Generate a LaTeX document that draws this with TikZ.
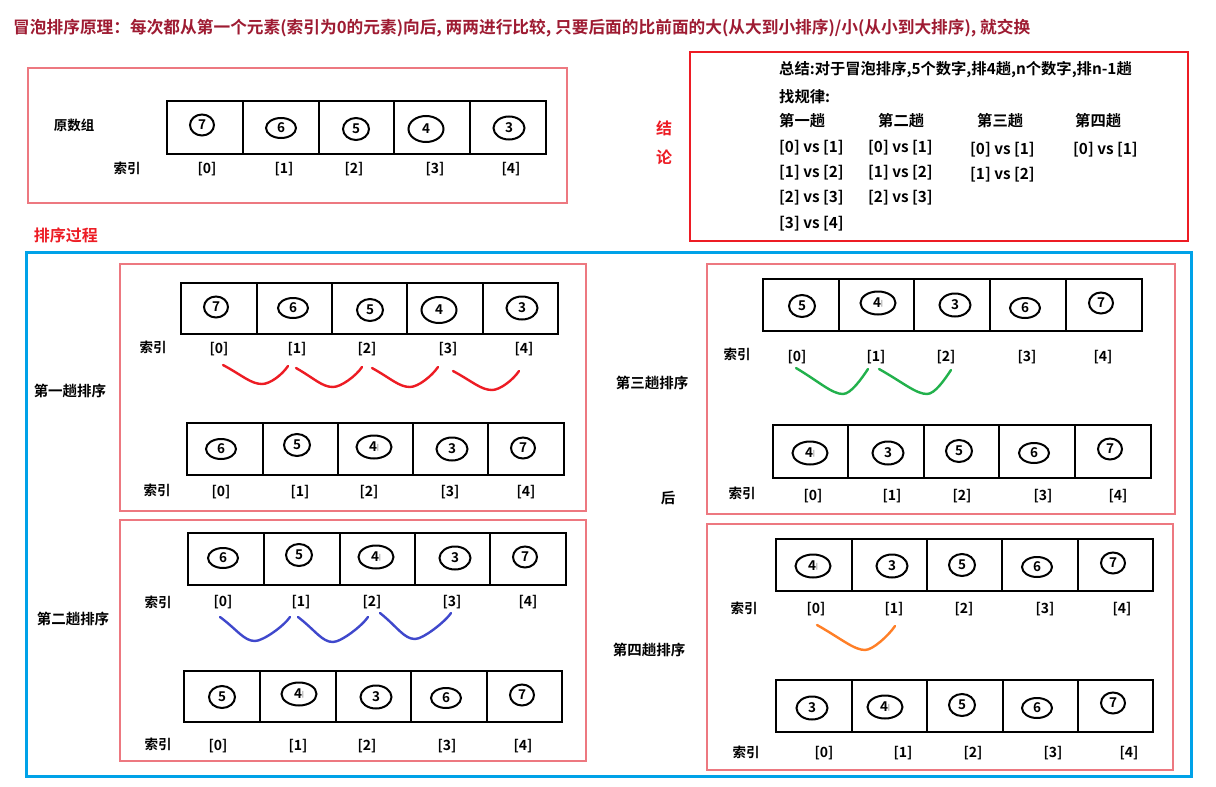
\documentclass[tikz,border=0pt]{standalone}
\usepackage{fontspec}
\setmainfont{Noto Sans CJK SC}[BoldFont={Noto Sans CJK SC Bold}]
\usetikzlibrary{shapes.geometric,calc}
\definecolor{titlered}{RGB}{158,27,50}
\definecolor{pinkline}{RGB}{237,120,128}
\definecolor{concred}{RGB}{237,28,36}
\definecolor{bigblue}{RGB}{0,162,232}
\definecolor{cred}{RGB}{237,28,36}
\definecolor{cblue}{RGB}{63,72,204}
\definecolor{cgreen}{RGB}{34,177,76}
\definecolor{corange}{RGB}{255,127,39}
\newcommand\fs[1]{\fontsize{#1}{#1}\selectfont}
\newcommand\tick{\raisebox{2pt}{\fs{6}\color{black!60}|}}
\tikzset{
  every node/.style={font=\bfseries\fs{13}, inner sep=0pt},
  pinkbox/.style={draw=pinkline, line width=1.1pt},
  arrbox/.style={draw, line width=2.8pt, inner sep=0pt},
  divline/.style={line width=2.5pt},
  ov/.style={ellipse, draw, line width=2pt, inner sep=0pt, font=\bfseries\fs{13.5}},
  d7/.style={minimum width=24pt, minimum height=21pt},
  d6/.style={minimum width=30pt, minimum height=20pt},
  d5/.style={minimum width=26pt, minimum height=22pt},
  d4/.style={minimum width=35pt, minimum height=26pt},
  d4p/.style={minimum width=35pt, minimum height=23pt},
  d3/.style={minimum width=31pt, minimum height=23pt},
  idx/.style={font=\bfseries\fs{14}},
  lbl/.style={font=\bfseries\fs{13.5}},
  pass/.style={font=\bfseries\fs{14.5}},
  conc/.style={font=\bfseries\fs{15.3}, anchor=west},
  curve/.style={line width=2.4pt, line cap=round},
}
% #1 name, #2 style, #3 left, #4 top, #5 right, #6 bottom
\newcommand\boxnode[6]{\node[#2, minimum width={#5-#3}, minimum height={#6-#4}] (#1) at ({(#3+#5)/2},{(#4+#6)/2}) {};}
% #1 name, #2 left, #3 top, #4 right, #5 bottom, #6 dividers
\newcommand\arrayrow[6]{%
  \boxnode{#1}{arrbox}{#2}{#3}{#4}{#5}
  \foreach \d in {#6} {\draw[divline] (\d,#3) -- (\d,#5);}
}
% #1 name, #2 x, #3 y, #4 style, #5 text
\newcommand\num[5]{\node[ov,#4] (#1) at (#2,#3) {#5};}
% #1 name, #2 y, #3..#7 x positions
\newcommand\idxrow[7]{%
  \node[idx] (#1i0) at (#3,#2) {[0]};
  \node[idx] (#1i1) at (#4,#2) {[1]};
  \node[idx] (#1i2) at (#5,#2) {[2]};
  \node[idx] (#1i3) at (#6,#2) {[3]};
  \node[idx] (#1i4) at (#7,#2) {[4]};
}
% #1 name, #2 colour, #3 sx, #4 sy, #5 mx, #6 my, #7 ex, #8 ey
\newcommand\swoosh[8]{%
  \coordinate (#1s) at (#3,#4);
  \coordinate (#1m) at (#5,#6);
  \coordinate (#1e) at (#7,#8);
  \draw[curve,#2] (#1s) .. controls ($(#1s)!0.5!(#1m)+(0,1)$) and ($(#1m)+(-11,0)$) .. (#1m)
     .. controls ($(#1m)+(8,0)$) and ($(#1e)+(-6,9)$) .. (#1e);
}
\begin{document}
\begin{tikzpicture}[x=1pt,y=-1pt]
\useasboundingbox (0,0) rectangle (1216,787);
\fill[white] (0,0) rectangle (1216,787);

% title
\node[anchor=west, font=\bfseries\fs{16.7}, text=titlered] (title) at (13,28)
  {冒泡排序原理：每次都从第一个元素(索引为0的元素)向后, 两两进行比较, 只要后面的比前面的大(从大到小排序)/小(从小到大排序), 就交换};

% original array
\boxnode{orig}{pinkbox}{28}{68}{567}{203}
\node[lbl] (origlbl) at (74,125) {原数组};
\arrayrow{oa}{167}{101}{546}{154}{243,319,394,470}
\num{o0}{202}{125}{d7}{7}
\num{o1}{281}{128}{d6}{6}
\num{o2}{356}{129}{d5}{5}
\num{o3}{426}{129}{d4}{4}
\num{o4}{509}{128}{d3}{3}
\node[lbl] (oidx) at (127,168) {索引};
\idxrow{o}{169}{207}{284}{354}{435}{511}

% conclusion
\boxnode{concbox}{draw=concred, line width=2.8pt}{690}{52}{1188}{241}
\node[font=\bfseries\fs{16}, text=concred] (jie) at (664,128) {结};
\node[font=\bfseries\fs{16}, text=concred] (lun) at (664,157) {论};
\node[conc] (sum) at (779,70) {总结:对于冒泡排序,5个数字,排4趟,n个数字,排n-1趟};
\node[conc] (rule) at (779,97) {找规律:};
\node[conc] (h1) at (779,121) {第一趟};
\node[conc] (h2) at (878,121) {第二趟};
\node[conc] (h3) at (977,121) {第三趟};
\node[conc] (h4) at (1075,121) {第四趟};
\node[conc] (c11) at (779,148) {[0] vs [1]};
\node[conc] (c12) at (779,173) {[1] vs [2]};
\node[conc] (c13) at (779,198) {[2] vs [3]};
\node[conc] (c14) at (779,224) {[3] vs [4]};
\node[conc] (c21) at (868,148) {[0] vs [1]};
\node[conc] (c22) at (868,173) {[1] vs [2]};
\node[conc] (c23) at (868,198) {[2] vs [3]};
\node[conc] (c31) at (970,150) {[0] vs [1]};
\node[conc] (c32) at (970,175) {[1] vs [2]};
\node[conc] (c41) at (1073,150) {[0] vs [1]};

% process
\node[font=\bfseries\fs{16}, text=concred] (proc) at (66,235) {排序过程};
\boxnode{big}{draw=bigblue, line width=3pt}{26}{252}{1191}{776}

% pass 1
\boxnode{b1}{pinkbox}{120}{264}{586}{511}
\node[pass] (p1) at (70,391) {第一趟排序};
\arrayrow{a1}{181}{283}{558}{334}{257,332,407,483}
\num{a1n0}{216}{307}{d7}{7}
\num{a1n1}{293}{308}{d6}{6}
\num{a1n2}{370}{310}{d5}{5}
\num{a1n3}{439}{310}{d4}{4}
\num{a1n4}{522}{308}{d3}{3}
\node[lbl] (a1s) at (153,347) {索引};
\idxrow{a1}{349}{219}{297}{367}{448}{524}
\swoosh{r1}{cred}{223}{365}{262}{384}{288}{366}
\swoosh{r2}{cred}{296}{368}{333}{387}{362}{367}
\swoosh{r3}{cred}{372}{368}{410}{387}{438}{367}
\swoosh{r4}{cred}{453}{371}{492}{390}{519}{371}
\arrayrow{b1a}{187}{423}{564}{475}{263,338,413,488}
\num{b1n0}{221}{449}{d6}{6}
\num{b1n1}{297}{445}{d5}{5}
\num{b1n2}{374}{447}{d4p}{4\tick}
\num{b1n3}{452}{449}{d3}{3}
\num{b1n4}{523}{448}{d7}{7}
\node[lbl] (b1s) at (157,490) {索引};
\idxrow{b1a}{492}{221}{300}{369}{450}{526}

% pass 2
\boxnode{b2}{pinkbox}{120}{520}{586}{761}
\node[pass] (p2) at (73,619) {第二趟排序};
\arrayrow{a2}{188}{533}{566}{585}{264,340,415,490}
\num{a2n0}{223}{558}{d6}{6}
\num{a2n1}{299}{555}{d5}{5}
\num{a2n2}{376}{557}{d4p}{4\tick}
\num{a2n3}{455}{558}{d3}{3}
\num{a2n4}{525}{557}{d7}{7}
\node[lbl] (a2s) at (158,602) {索引};
\idxrow{a2}{602}{223}{301}{372}{452}{528}
\swoosh{u1}{cblue}{220}{617}{255}{641}{290}{617}
\swoosh{u2}{cblue}{298}{617}{333}{642}{368}{617}
\swoosh{u3}{cblue}{380}{613}{415}{639}{451}{613}
\arrayrow{b2a}{184}{671}{562}{722}{260,336,411,487}
\num{b2n0}{222}{697}{d5}{5}
\num{b2n1}{299}{694}{d4p}{4\tick}
\num{b2n2}{376}{697}{d3}{3}
\num{b2n3}{446}{698}{d6}{6}
\num{b2n4}{522}{695}{d7}{7}
\node[lbl] (b2s) at (158,744) {索引};
\idxrow{b2a}{746}{218}{298}{367}{447}{523}

% pass 3
\boxnode{b3}{pinkbox}{707}{264}{1175}{514}
\node[pass] (p3) at (652,383) {第三趟排序};
\node[pass] (hou) at (668,498) {后};
\arrayrow{a3}{763}{279}{1142}{331}{839,914,990,1066}
\num{a3n0}{802}{306}{d5}{5}
\num{a3n1}{878}{303}{d4p}{4\tick}
\num{a3n2}{955}{305}{d3}{3}
\num{a3n3}{1025}{308}{d6}{6}
\num{a3n4}{1101}{303}{d7}{7}
\node[lbl] (a3s) at (737,354) {索引};
\idxrow{a3}{357}{797}{876}{946}{1027}{1103}
\swoosh{g1}{cgreen}{796}{368}{843}{394}{868}{369}
\swoosh{g2}{cgreen}{879}{369}{927}{394}{951}{370}
\arrayrow{b3a}{773}{425}{1151}{478}{848,924,999,1075}
\num{b3n0}{810}{453}{d4p}{4\tick}
\num{b3n1}{888}{453}{d3}{3}
\num{b3n2}{959}{451}{d5}{5}
\num{b3n3}{1034}{453}{d6}{6}
\num{b3n4}{1110}{449}{d7}{7}
\node[lbl] (b3s) at (742,493) {索引};
\idxrow{b3a}{496}{813}{892}{962}{1043}{1118}

% pass 4
\boxnode{b4}{pinkbox}{707}{524}{1173}{770}
\node[pass] (p4) at (649,650) {第四趟排序};
\arrayrow{a4}{776}{539}{1153}{591}{852,927,1002,1078}
\num{a4n0}{813}{566}{d4p}{4\tick}
\num{a4n1}{892}{566}{d3}{3}
\num{a4n2}{962}{565}{d5}{5}
\num{a4n3}{1037}{567}{d6}{6}
\num{a4n4}{1113}{563}{d7}{7}
\node[lbl] (a4s) at (744,608) {索引};
\idxrow{a4}{609}{816}{894}{964}{1045}{1122}
\swoosh{q1}{corange}{817}{625}{865}{650}{895}{626}
\arrayrow{b4a}{776}{680}{1153}{732}{852,927,1003,1078}
\num{b4n0}{812}{708}{d3}{3}
\num{b4n1}{885}{707}{d4p}{4\tick}
\num{b4n2}{962}{705}{d5}{5}
\num{b4n3}{1037}{708}{d6}{6}
\num{b4n4}{1113}{703}{d7}{7}
\node[lbl] (b4s) at (746,752) {索引};
\idxrow{b4a}{753}{824}{903}{973}{1053}{1129}
\end{tikzpicture}
\end{document}
